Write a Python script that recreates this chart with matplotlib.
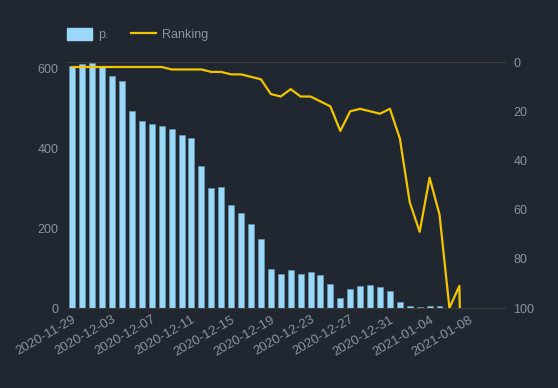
import pandas as pd
import matplotlib
matplotlib.use('Agg')
import matplotlib.pyplot as plt
import matplotlib.dates as mdates
from matplotlib.patches import Patch
from matplotlib.lines import Line2D

# data
dates = pd.date_range('2020-11-29', periods=41, freq='D')
bar_values = [606, 611, 613, 604, 581, 568, 493, 468, 461, 456,
              448, 433, 426, 356, 301, 303, 258, 238, 211, 173,
              98, 86, 96, 86, 91, 83, 61, 26, 48, 56,
              58, 53, 43, 16, 4, 3, 6, 4, 0, 0, 0]
ranking = [2, 2, 2, 2, 2, 2, 2, 2, 2, 2,
           3, 3, 3, 3, 4, 4, 5, 5, 6, 7,
           13, 14, 11, 14, 14, 16, 18, 28, 20, 19,
           20, 21, 19, 31, 57, 69, 47, 62, 100, 91, 300]
tick_dates = pd.date_range('2020-11-29', '2021-01-08', freq='4D')

bg = '#212731'
text_col = '#8b939c'
bar_col = '#9ad8fa'
line_col = '#f2c500'

plt.rcParams['font.family'] = ['Liberation Sans', 'DejaVu Sans']

fig = plt.figure(figsize=(5.58, 3.88), dpi=100, facecolor=bg)
ax = fig.add_axes([0.120, 0.206, 0.785, 0.634], facecolor=bg)

ax.bar(dates[:-1], bar_values[:-1], width=0.6, color=bar_col,
       edgecolor='#6e9db8', linewidth=0.4, zorder=2)
ax.set_ylim(0, 615)
ax.set_yticks([0, 200, 400, 600])
ax.set_xlim(dates[0] - pd.Timedelta(days=0.55), dates[0] + pd.Timedelta(days=43.6))
ax.set_xticks(tick_dates)
ax.xaxis.set_major_formatter(mdates.DateFormatter('%Y-%m-%d'))

ax2 = ax.twinx()
ax2.plot(dates, ranking, color=line_col, linewidth=1.6, zorder=3)
ax2.set_ylim(100, 0)
ax2.set_yticks([0, 20, 40, 60, 80, 100])

for a in (ax, ax2):
    a.tick_params(colors=text_col, labelsize=9, length=0, pad=6)
    for s in a.spines.values():
        s.set_visible(False)

ax.tick_params(axis='x', pad=4, labelsize=9.5)
plt.setp(ax.get_xticklabels(), rotation=30, ha='right', rotation_mode='anchor')
ax.spines['bottom'].set_visible(True)
ax.spines['bottom'].set_color('#3c3b38')
ax.spines['top'].set_visible(True)
ax.spines['top'].set_color('#3c3b38')

handles = [Patch(facecolor=bar_col, edgecolor=bar_col, label='p.'),
           Line2D([0], [0], color=line_col, linewidth=1.6, label='Ranking')]
fig.legend(handles=handles, loc='center left', bbox_to_anchor=(0.100, 0.91),
           ncol=2, frameon=False, labelcolor=text_col, fontsize=9,
           handlelength=2.0, handleheight=1.0, columnspacing=1.8, handletextpad=0.5)

fig.savefig('out.png', dpi=100, facecolor=bg)
